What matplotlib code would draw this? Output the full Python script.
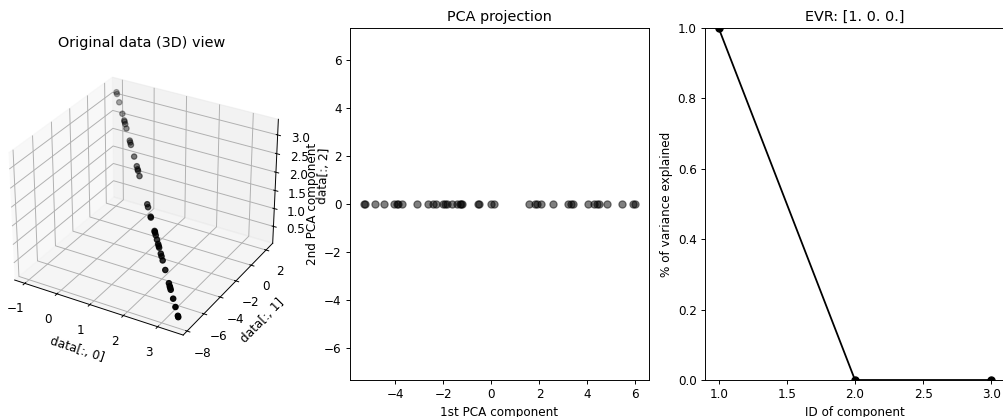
import numpy as np
import matplotlib
matplotlib.use("Agg")
import matplotlib.pyplot as plt

# scores on the first principal component
pc1 = [-5.33, -5.27, -4.86, -4.47, -4.05, -3.95, -3.88, -3.74, -3.11, -2.65,
       -2.45, -2.32, -2.03, -1.95, -1.85, -1.64, -1.43, -1.30, -1.25, -1.21,
       -0.55, -0.50, -0.03, 0.12,
       1.55, 1.82, 1.90, 2.06, 2.56, 3.17, 3.30, 3.40, 4.04, 4.27,
       4.40, 4.47, 4.83, 5.45, 5.90, 6.00]
pc2 = [0.0] * len(pc1)

# the original points all sit on one line in 3D
line_center = [1.335, -3.06, 1.63]
line_dir = [-0.389, 0.876, 0.261]

evr = [1.0, 0.0, 0.0]
comp_ids = [1, 2, 3]

data = np.array(line_center) + np.outer(pc1, line_dir)

W, H, DPI = 1003, 417, 86
fig = plt.figure(figsize=(W / DPI, H / DPI), dpi=DPI)

ax1 = fig.add_axes([-8 / W, 37 / H, 300 / W, 352 / H], projection="3d")
ax1.scatter(data[:, 0], data[:, 1], data[:, 2], c="k")
ax1.set_xlabel("data[:, 0]")
ax1.set_ylabel("data[:, 1]")
ax1.set_zlabel("data[:, 2]")
ax1.set_title("Original data (3D) view")

ax2 = fig.add_axes([350 / W, 37 / H, 299 / W, 352 / H])
ax2.scatter(pc1, pc2, c="k", alpha=0.5)
ax2.set_aspect("equal", adjustable="datalim")
ax2.set_xlabel("1st PCA component")
ax2.set_ylabel("2nd PCA component")
ax2.set_title("PCA projection")

ax3 = fig.add_axes([705 / W, 37 / H, 300 / W, 352 / H])
ax3.plot(comp_ids, evr, "o-", c="k")
ax3.set_ylim(0, 1)
ax3.set_xlabel("ID of component")
ax3.set_ylabel("% of variance explained")
ax3.set_title("EVR: " + str(np.array(evr)))

fig.savefig("out.png", dpi=DPI)
